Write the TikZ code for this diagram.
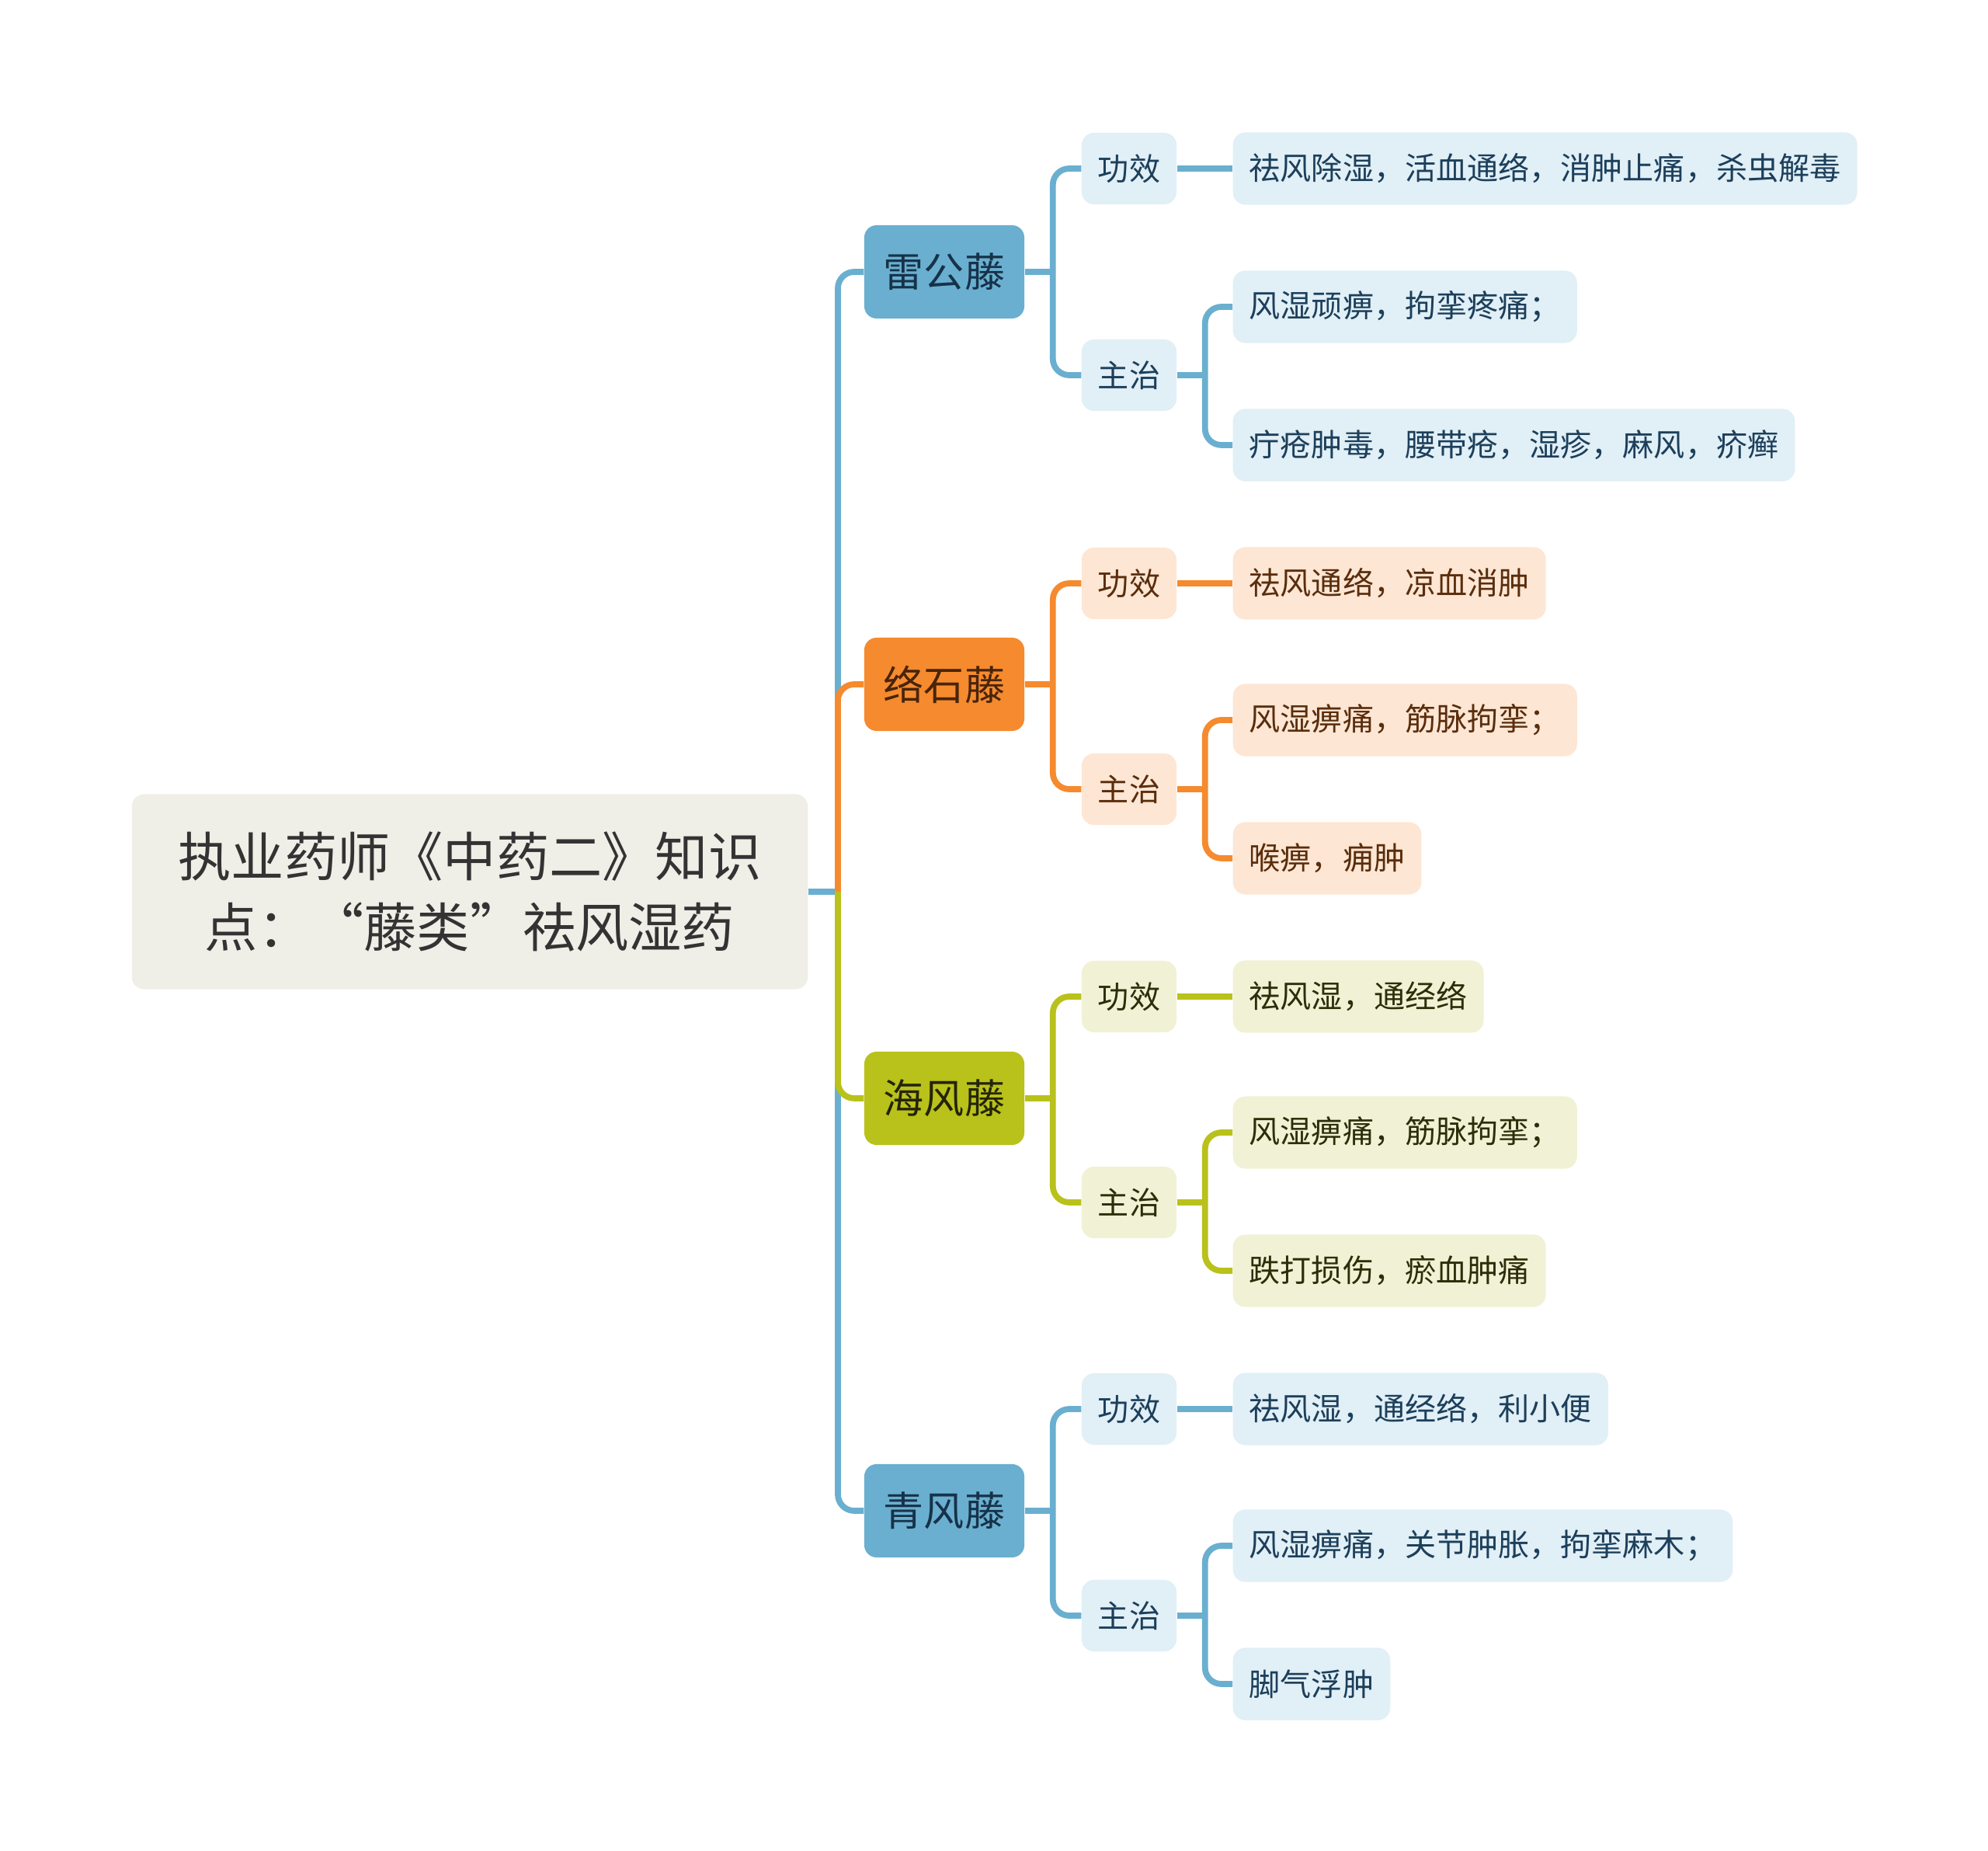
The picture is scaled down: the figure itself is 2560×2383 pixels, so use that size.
\documentclass[tikz,border=0pt]{standalone}
\usepackage{fontspec}
\setmainfont{Noto Sans CJK SC}
\usetikzlibrary{calc}

% Colours
\definecolor{rootfill}{HTML}{EFEEE7}
\definecolor{roottext}{HTML}{333333}
\definecolor{bluemain}{HTML}{6AAFCF}
\definecolor{bluelight}{HTML}{E1EFF6}
\definecolor{bluetext}{HTML}{1C3F5B}
\definecolor{orangemain}{HTML}{F58A2E}
\definecolor{orangelight}{HTML}{FDE6D4}
\definecolor{orangetext}{HTML}{5A2D0C}
\definecolor{olivemain}{HTML}{B9C11B}
\definecolor{olivelight}{HTML}{F1F1D6}
\definecolor{olivetext}{HTML}{2D2D08}

\tikzset{
  rootbox/.style={fill=rootfill, text=roottext, rounded corners=4.5pt,
    minimum width=8.7cm, minimum height=2.51cm, align=center,
    font=\fontsize{19.4}{26}\selectfont},
  mainbox/.style={fill=#1main, text=#1text!80!black, rounded corners=4.5pt,
    minimum width=2.06cm, minimum height=1.2cm,
    font=\fontsize{14.8}{18}\selectfont},
  subbox/.style={fill=#1light, text=#1text, rounded corners=4.5pt,
    minimum width=1.22cm, minimum height=0.92cm,
    font=\fontsize{11.4}{14}\selectfont},
  leafbox/.style={fill=#1light, text=#1text, rounded corners=4.5pt,
    anchor=west, inner xsep=6pt, minimum height=0.93cm,
    font=\fontsize{11.4}{14}\selectfont},
  link/.style={draw=#1main, line width=2.2pt, rounded corners=6pt}
}

\begin{document}
\begin{tikzpicture}[x=0.01cm, y=-0.01cm]

% Page size
\useasboundingbox (0,0) rectangle (2560,2383);

% Columns
\def\xmain{1216}
\def\xsub{1454}
\def\xleaf{1587}

% Root
\node[rootbox] (root) at (605,1148) {执业药师《中药二》知识\\点：“藤类”祛风湿药};
\coordinate (J0) at ($(root.east)+(38,0)$);

% Branch 1: 雷公藤
\node[mainbox=blue] (lgt) at (\xmain,350) {雷公藤};
\node[subbox=blue] (lgt-gx) at (\xsub,217) {功效};
\node[subbox=blue] (lgt-zz) at (\xsub,483) {主治};
\node[leafbox=blue] (lgt-gx-1) at (\xleaf,217) {祛风除湿，活血通络，消肿止痛，杀虫解毒};
\node[leafbox=blue] (lgt-zz-1) at (\xleaf,395) {风湿顽痹，拘挛疼痛；};
\node[leafbox=blue] (lgt-zz-2) at (\xleaf,573) {疔疮肿毒，腰带疮，湿疹，麻风，疥癣};

% Branch 2: 络石藤
\node[mainbox=orange] (lst) at (\xmain,881) {络石藤};
\node[subbox=orange] (lst-gx) at (\xsub,751) {功效};
\node[subbox=orange] (lst-zz) at (\xsub,1016) {主治};
\node[leafbox=orange] (lst-gx-1) at (\xleaf,751) {祛风通络，凉血消肿};
\node[leafbox=orange] (lst-zz-1) at (\xleaf,927) {风湿痹痛，筋脉拘挛；};
\node[leafbox=orange] (lst-zz-2) at (\xleaf,1105) {喉痹，痈肿};

% Branch 3: 海风藤
\node[mainbox=olive] (hft) at (\xmain,1414) {海风藤};
\node[subbox=olive] (hft-gx) at (\xsub,1283) {功效};
\node[subbox=olive] (hft-zz) at (\xsub,1548) {主治};
\node[leafbox=olive] (hft-gx-1) at (\xleaf,1283) {祛风湿，通经络};
\node[leafbox=olive] (hft-zz-1) at (\xleaf,1458) {风湿痹痛，筋脉拘挛；};
\node[leafbox=olive] (hft-zz-2) at (\xleaf,1636) {跌打损伤，瘀血肿痛};

% Branch 4: 青风藤
\node[mainbox=blue] (qft) at (\xmain,1945) {青风藤};
\node[subbox=blue] (qft-gx) at (\xsub,1814) {功效};
\node[subbox=blue] (qft-zz) at (\xsub,2080) {主治};
\node[leafbox=blue] (qft-gx-1) at (\xleaf,1814) {祛风湿，通经络，利小便};
\node[leafbox=blue] (qft-zz-1) at (\xleaf,1990) {风湿痹痛，关节肿胀，拘挛麻木；};
\node[leafbox=blue] (qft-zz-2) at (\xleaf,2168) {脚气浮肿};

% Root to branches
\draw[link=blue] (root.east) -- (J0);
\draw[link=blue] (J0) |- (lgt.west);
\draw[link=blue] (J0) |- (qft.west);
\draw[link=orange] (J0) |- (lst.west);
\draw[link=olive] (J0) |- (hft.west);

% Branches to sub nodes and leaves
\foreach \b/\c in {lgt/blue, lst/orange, hft/olive, qft/blue}{
  \coordinate (\b-j) at ($(\b.east)+(36,0)$);
  \coordinate (\b-zz-j) at ($(\b-zz.east)+(36,0)$);
  \draw[link=\c] (\b.east) -- (\b-j);
  \draw[link=\c] (\b-j) |- (\b-gx.west);
  \draw[link=\c] (\b-j) |- (\b-zz.west);
  \draw[link=\c] (\b-gx.east) -- (\b-gx-1.west);
  \draw[link=\c] (\b-zz.east) -- (\b-zz-j);
  \draw[link=\c] (\b-zz-j) |- (\b-zz-1.west);
  \draw[link=\c] (\b-zz-j) |- (\b-zz-2.west);
}

\end{tikzpicture}
\end{document}
